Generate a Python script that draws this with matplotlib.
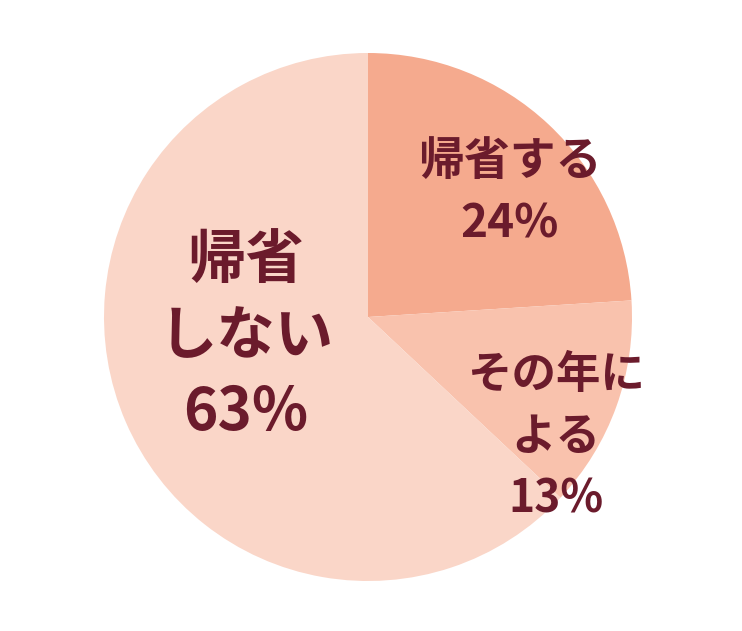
import matplotlib.pyplot as plt

plt.rcParams['font.family'] = ['Noto Sans CJK JP', 'DejaVu Sans']

labels = ['帰省する', 'その年に\nよる', '帰省\nしない']
values = [24, 13, 63]
colors = ['#F5AA8E', '#F9C2AD', '#FAD6C8']
text_color = '#6B1B2C'

fig = plt.figure(figsize=(7.42, 6.31), dpi=100)
fig.patch.set_facecolor('white')
ax = fig.add_axes([0, 0, 1, 1])

ax.pie(values, colors=colors, startangle=90, counterclock=False,
       center=(368, 314), radius=264, frame=True,
       wedgeprops={'linewidth': 0})
ax.set_xlim(0, 742)
ax.set_ylim(0, 631)
ax.set_aspect('equal')
ax.axis('off')

# label positions (pixels, y from bottom), font sizes
label_pos = [(510, 438), (556, 194), (246, 294)]
label_size = [33, 32, 42]
label_spacing = [1.45, 1.45, 1.35]

for lab, val, (x, y), fs, ls in zip(labels, values, label_pos, label_size, label_spacing):
    ax.text(x, y, f'{lab}\n{val}%', ha='center', va='center', fontsize=fs,
            fontweight='bold', color=text_color, linespacing=ls)

fig.savefig('out.png', dpi=100, facecolor='white')
